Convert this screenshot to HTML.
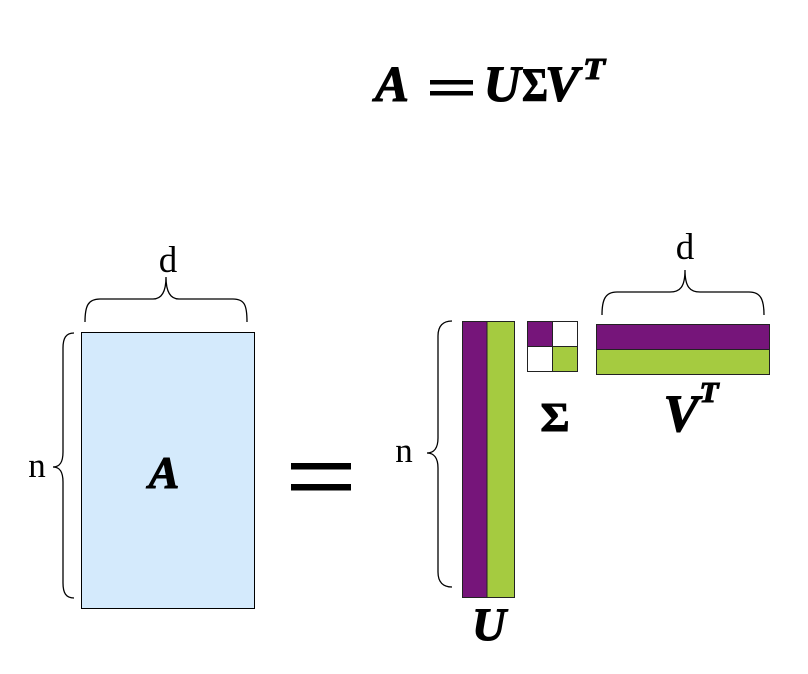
<!DOCTYPE html>
<html>
<head>
<meta charset="utf-8">
<style>
  html, body { margin:0; padding:0; background:#ffffff; }
  body { width:808px; height:674px; overflow:hidden; }
  svg { display:block; }
  .m { font-family:"Liberation Serif", "DejaVu Serif", serif; font-weight:bold; font-style:italic; fill:#000; stroke:#000; stroke-width:1.1; }
  .s { font-family:"Liberation Serif", "DejaVu Serif", serif; font-weight:bold; font-style:normal; fill:#000; stroke:#000; stroke-width:1.1; }
  .r { font-family:"Liberation Serif", "DejaVu Serif", serif; font-weight:normal; fill:#000; }
  .br { fill:none; stroke:#000; stroke-width:1.3; }
</style>
</head>
<body>
<svg width="808" height="674" viewBox="0 0 808 674" xmlns="http://www.w3.org/2000/svg">
  <!-- Title: A = UΣV^T -->
  <text class="m" x="392" y="101" font-size="51" text-anchor="middle">A</text>
  <rect x="430" y="80" width="43" height="4.5" fill="#000"/>
  <rect x="430" y="91" width="43" height="4.5" fill="#000"/>
  <text class="m" x="502" y="101" font-size="51" text-anchor="middle">U</text>
  <text class="s" x="535" y="101" font-size="48" text-anchor="middle" textLength="26" lengthAdjust="spacingAndGlyphs">Σ</text>
  <text class="m" x="562" y="101" font-size="51" text-anchor="middle">V</text>
  <text class="m" x="594" y="79" font-size="31" text-anchor="middle" textLength="22" lengthAdjust="spacingAndGlyphs">T</text>

  <!-- Matrix A -->
  <rect x="81.5" y="332.5" width="173" height="276" fill="#d4eafc" stroke="#000" stroke-width="1"/>
  <text class="m" x="164" y="488" font-size="46" text-anchor="middle">A</text>

  <!-- brace d over A -->
  <path class="br" d="M85,322 C85,306 88,299 100,299 L153,299 C161,299 166,293 166,277 C166,293 171,299 179,299 L233,299 C245,299 247,306 247,322"/>
  <text class="r" x="168" y="272" font-size="37" text-anchor="middle">d</text>

  <!-- brace n left of A -->
  <path class="br" d="M74,333 C66,333 63,338 63,348 L63,452 C63,462 60,467 53,467 C60,467 63,472 63,482 L63,583 C63,593 66,598 74,598"/>
  <text class="r" x="37" y="477" font-size="35" text-anchor="middle">n</text>

  <!-- big equals -->
  <rect x="291" y="463" width="60" height="6.5" fill="#000"/>
  <rect x="291" y="484" width="60" height="6.5" fill="#000"/>

  <!-- U -->
  <rect x="462.5" y="321.5" width="24.5" height="276" fill="#76157a" stroke="#222" stroke-width="1"/>
  <rect x="487" y="321.5" width="27.5" height="276" fill="#a5cb40" stroke="#222" stroke-width="1"/>
  <text class="m" x="489" y="640" font-size="47" text-anchor="middle">U</text>

  <!-- brace n left of U -->
  <path class="br" d="M452,321 C443,321 438,326 438,336 L438,438 C438,448 434,453 427,453 C434,453 438,458 438,468 L438,572 C438,582 443,587 452,587"/>
  <text class="r" x="404" y="462" font-size="35" text-anchor="middle">n</text>

  <!-- Sigma -->
  <rect x="527.5" y="321.5" width="25" height="25" fill="#76157a" stroke="#222" stroke-width="1"/>
  <rect x="552.5" y="321.5" width="25" height="25" fill="#ffffff" stroke="#222" stroke-width="1"/>
  <rect x="527.5" y="346.5" width="25" height="25" fill="#ffffff" stroke="#222" stroke-width="1"/>
  <rect x="552.5" y="346.5" width="25" height="25" fill="#a5cb40" stroke="#222" stroke-width="1"/>
  <text class="s" x="555" y="431" font-size="41" text-anchor="middle" textLength="29" lengthAdjust="spacingAndGlyphs">Σ</text>

  <!-- V^T -->
  <rect x="596.5" y="324.5" width="173" height="25" fill="#76157a" stroke="#222" stroke-width="1"/>
  <rect x="596.5" y="349.5" width="173" height="25" fill="#a5cb40" stroke="#222" stroke-width="1"/>
  <text class="m" x="681" y="431" font-size="53" text-anchor="middle">V</text>
  <text class="m" x="709" y="402" font-size="28" text-anchor="middle" textLength="19" lengthAdjust="spacingAndGlyphs">T</text>

  <!-- brace d over V^T -->
  <path class="br" d="M602,315 C602,300 605,292 617,292 L670,292 C680,292 685,287 685,270 C685,287 690,292 700,292 L749,292 C761,292 764,300 764,315"/>
  <text class="r" x="685" y="259" font-size="37" text-anchor="middle">d</text>
</svg>
</body>
</html>
